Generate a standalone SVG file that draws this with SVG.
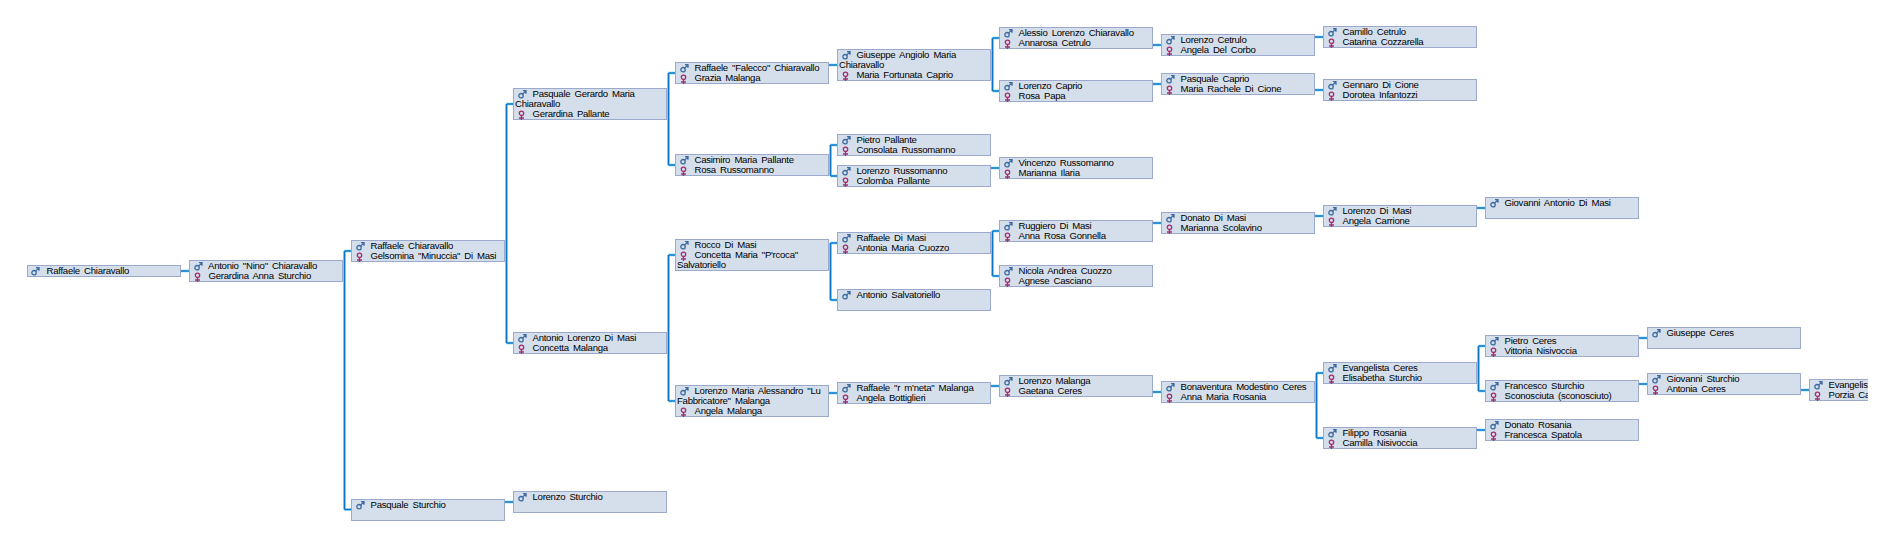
<svg xmlns="http://www.w3.org/2000/svg" width="1893" height="547" viewBox="0 0 1893 547">
<style>
.b{fill:#d5dfeb;stroke:#9aa9cc;stroke-width:1}
text{font-family:"Liberation Sans",Arial,sans-serif;font-size:9.6px;fill:#000;word-spacing:1.8px;letter-spacing:-.27px}
.halo{fill:none;stroke:#a6e4f8;stroke-width:3}
.line{fill:none;stroke:#0a74c8;stroke-width:1.5}
.mi{fill:none;stroke:#3d6ba0;stroke-width:1.3}
.fi{fill:none;stroke:#a03070;stroke-width:1.3}
</style>
<defs>
<g id="m" transform="translate(0 .7)"><circle class="mi" cx="3" cy="6" r="2.2"/><path class="mi" d="M4.6 4.4 7.6 1.4M5 1H8V4"/></g>
<g id="f" transform="translate(0 1)"><circle class="fi" cx="3.5" cy="2.8" r="2.2"/><path class="fi" d="M3.5 5V9.6M1 7.5H6"/></g>
<clipPath id="clip"><rect x="0" y="0" width="1868" height="547"/></clipPath>
<path id="links" d="M181 271H189M344.500 251V509.500M344.500 251H351M344.500 509.500H351M506.500 104V343M506.500 104H513M506.500 343H513M505 502H513M668.500 73V165M668.500 73H675M668.500 165H675M668.500 255V401M668.500 255H675M668.500 401H675M829 65H837M830.500 145V176M830.500 145H837M830.500 176H837M830.500 243V300M830.500 243H837M830.500 300H837M829 393H837M992.500 38V91M992.500 38H999M992.500 91H999M991 168H999M992.500 231V276M992.500 231H999M992.500 276H999M991 386H999M1153 45H1161M1153 84H1161M1153 223H1161M1153 392H1161M1315 37H1323M1315 90H1323M1315 216H1323M1316.500 373V438M1316.500 373H1323M1316.500 438H1323M1477 208H1485M1478.500 346V391M1478.500 346H1485M1478.500 391H1485M1477 430H1485M1639 338H1647M1639 384H1647M1801 390H1809"/>
</defs>
<g id="connectors">
<use href="#links" class="halo"/>
<use href="#links" class="line"/>
</g>
<g id="nodes" clip-path="url(#clip)">
<g id="n1"><rect class="b" x="27.500" y="265.500" width="153" height="11"/><use href="#m" x="31" y="266"/><text x="46.500" y="274.300">Raffaele Chiaravallo</text></g>
<g id="n2"><rect class="b" x="189.500" y="260.500" width="153" height="21"/><use href="#m" x="194" y="261"/><use href="#f" x="194" y="271.500"/><text x="208" y="269">Antonio "Nino" Chiaravallo</text><text x="208.500" y="279">Gerardina Anna Sturchio</text></g>
<g id="n3"><rect class="b" x="351.500" y="240.500" width="153" height="21"/><use href="#m" x="356" y="241"/><use href="#f" x="356" y="251.500"/><text x="370.500" y="249">Raffaele Chiaravallo</text><text x="370.500" y="259">Gelsomina "Minuccia" Di Masi</text></g>
<g id="n4"><rect class="b" x="351.500" y="499.500" width="153" height="21"/><use href="#m" x="356" y="500"/><text x="370.500" y="508">Pasquale Sturchio</text></g>
<g id="n5"><rect class="b" x="513.500" y="491.500" width="153" height="21"/><use href="#m" x="518" y="492"/><text x="532.500" y="500">Lorenzo Sturchio</text></g>
<g id="n6"><rect class="b" x="513.500" y="88.500" width="153" height="31"/><use href="#m" x="518" y="89"/><use href="#f" x="518" y="109.500"/><text x="532.500" y="97">Pasquale Gerardo Maria</text><text x="515" y="107">Chiaravallo</text><text x="532.500" y="117">Gerardina Pallante</text></g>
<g id="n7"><rect class="b" x="513.500" y="332.500" width="153" height="21"/><use href="#m" x="518" y="333"/><use href="#f" x="518" y="343.500"/><text x="532.500" y="341">Antonio Lorenzo Di Masi</text><text x="532.500" y="351">Concetta Malanga</text></g>
<g id="n8"><rect class="b" x="675.500" y="62.500" width="153" height="21"/><use href="#m" x="680" y="63"/><use href="#f" x="680" y="73.500"/><text x="694.500" y="71">Raffaele "Falecco" Chiaravallo</text><text x="694.500" y="81">Grazia Malanga</text></g>
<g id="n9"><rect class="b" x="675.500" y="154.500" width="153" height="21"/><use href="#m" x="680" y="155"/><use href="#f" x="680" y="165.500"/><text x="694.500" y="163">Casimiro Maria Pallante</text><text x="694.500" y="173">Rosa Russomanno</text></g>
<g id="n10"><rect class="b" x="675.500" y="239.500" width="153" height="31"/><use href="#m" x="680" y="240"/><use href="#f" x="680" y="250.500"/><text x="694.500" y="248">Rocco Di Masi</text><text x="694.500" y="258">Concetta Maria "P'rcoca"</text><text x="677" y="268">Salvatoriello</text></g>
<g id="n11"><rect class="b" x="675.500" y="385.500" width="153" height="31"/><use href="#m" x="680" y="386"/><use href="#f" x="680" y="406.500"/><text x="694.500" y="394">Lorenzo Maria Alessandro "Lu</text><text x="677" y="404">Fabbricatore" Malanga</text><text x="694.500" y="414">Angela Malanga</text></g>
<g id="n12"><rect class="b" x="837.500" y="49.500" width="153" height="31"/><use href="#m" x="842" y="50"/><use href="#f" x="842" y="70.500"/><text x="856.500" y="58">Giuseppe Angiolo Maria</text><text x="839" y="68">Chiaravallo</text><text x="856.500" y="78">Maria Fortunata Caprio</text></g>
<g id="n13"><rect class="b" x="837.500" y="134.500" width="153" height="21"/><use href="#m" x="842" y="135"/><use href="#f" x="842" y="145.500"/><text x="856.500" y="143">Pietro Pallante</text><text x="856.500" y="153">Consolata Russomanno</text></g>
<g id="n14"><rect class="b" x="837.500" y="165.500" width="153" height="21"/><use href="#m" x="842" y="166"/><use href="#f" x="842" y="176.500"/><text x="856.500" y="174">Lorenzo Russomanno</text><text x="856.500" y="184">Colomba Pallante</text></g>
<g id="n15"><rect class="b" x="837.500" y="232.500" width="153" height="21"/><use href="#m" x="842" y="233"/><use href="#f" x="842" y="243.500"/><text x="856.500" y="241">Raffaele Di Masi</text><text x="856.500" y="251">Antonia Maria Cuozzo</text></g>
<g id="n16"><rect class="b" x="837.500" y="289.500" width="153" height="21"/><use href="#m" x="842" y="290"/><text x="856.500" y="298">Antonio Salvatoriello</text></g>
<g id="n17"><rect class="b" x="837.500" y="382.500" width="153" height="21"/><use href="#m" x="842" y="383"/><use href="#f" x="842" y="393.500"/><text x="856.500" y="391">Raffaele "r m'neta" Malanga</text><text x="856.500" y="401">Angela Bottiglieri</text></g>
<g id="n18"><rect class="b" x="999.500" y="27.500" width="153" height="21"/><use href="#m" x="1004" y="28"/><use href="#f" x="1004" y="38.500"/><text x="1018.500" y="36">Alessio Lorenzo Chiaravallo</text><text x="1018.500" y="46">Annarosa Cetrulo</text></g>
<g id="n19"><rect class="b" x="999.500" y="80.500" width="153" height="21"/><use href="#m" x="1004" y="81"/><use href="#f" x="1004" y="91.500"/><text x="1018.500" y="89">Lorenzo Caprio</text><text x="1018.500" y="99">Rosa Papa</text></g>
<g id="n20"><rect class="b" x="999.500" y="157.500" width="153" height="21"/><use href="#m" x="1004" y="158"/><use href="#f" x="1004" y="168.500"/><text x="1018.500" y="166">Vincenzo Russomanno</text><text x="1018.500" y="176">Marianna Ilaria</text></g>
<g id="n21"><rect class="b" x="999.500" y="220.500" width="153" height="21"/><use href="#m" x="1004" y="221"/><use href="#f" x="1004" y="231.500"/><text x="1018.500" y="229">Ruggiero Di Masi</text><text x="1018.500" y="239">Anna Rosa Gonnella</text></g>
<g id="n22"><rect class="b" x="999.500" y="265.500" width="153" height="21"/><use href="#m" x="1004" y="266"/><use href="#f" x="1004" y="276.500"/><text x="1018.500" y="274">Nicola Andrea Cuozzo</text><text x="1018.500" y="284">Agnese Casciano</text></g>
<g id="n23"><rect class="b" x="999.500" y="375.500" width="153" height="21"/><use href="#m" x="1004" y="376"/><use href="#f" x="1004" y="386.500"/><text x="1018.500" y="384">Lorenzo Malanga</text><text x="1018.500" y="394">Gaetana Ceres</text></g>
<g id="n24"><rect class="b" x="1161.500" y="34.500" width="153" height="21"/><use href="#m" x="1166" y="35"/><use href="#f" x="1166" y="45.500"/><text x="1180.500" y="43">Lorenzo Cetrulo</text><text x="1180.500" y="53">Angela Del Corbo</text></g>
<g id="n25"><rect class="b" x="1161.500" y="73.500" width="153" height="21"/><use href="#m" x="1166" y="74"/><use href="#f" x="1166" y="84.500"/><text x="1180.500" y="82">Pasquale Caprio</text><text x="1180.500" y="92">Maria Rachele Di Cione</text></g>
<g id="n26"><rect class="b" x="1161.500" y="212.500" width="153" height="21"/><use href="#m" x="1166" y="213"/><use href="#f" x="1166" y="223.500"/><text x="1180.500" y="221">Donato Di Masi</text><text x="1180.500" y="231">Marianna Scolavino</text></g>
<g id="n27"><rect class="b" x="1161.500" y="381.500" width="153" height="21"/><use href="#m" x="1166" y="382"/><use href="#f" x="1166" y="392.500"/><text x="1180.500" y="390">Bonaventura Modestino Ceres</text><text x="1180.500" y="400">Anna Maria Rosania</text></g>
<g id="n28"><rect class="b" x="1323.500" y="26.500" width="153" height="21"/><use href="#m" x="1328" y="27"/><use href="#f" x="1328" y="37.500"/><text x="1342.500" y="35">Camillo Cetrulo</text><text x="1342.500" y="45">Catarina Cozzarella</text></g>
<g id="n29"><rect class="b" x="1323.500" y="79.500" width="153" height="21"/><use href="#m" x="1328" y="80"/><use href="#f" x="1328" y="90.500"/><text x="1342.500" y="88">Gennaro Di Cione</text><text x="1342.500" y="98">Dorotea Infantozzi</text></g>
<g id="n30"><rect class="b" x="1323.500" y="205.500" width="153" height="21"/><use href="#m" x="1328" y="206"/><use href="#f" x="1328" y="216.500"/><text x="1342.500" y="214">Lorenzo Di Masi</text><text x="1342.500" y="224">Angela Carrione</text></g>
<g id="n31"><rect class="b" x="1323.500" y="362.500" width="153" height="21"/><use href="#m" x="1328" y="363"/><use href="#f" x="1328" y="373.500"/><text x="1342.500" y="371">Evangelista Ceres</text><text x="1342.500" y="381">Elisabetha Sturchio</text></g>
<g id="n32"><rect class="b" x="1323.500" y="427.500" width="153" height="21"/><use href="#m" x="1328" y="428"/><use href="#f" x="1328" y="438.500"/><text x="1342.500" y="436">Filippo Rosania</text><text x="1342.500" y="446">Camilla Nisivoccia</text></g>
<g id="n33"><rect class="b" x="1485.500" y="197.500" width="153" height="21"/><use href="#m" x="1490" y="198"/><text x="1504.500" y="206">Giovanni Antonio Di Masi</text></g>
<g id="n34"><rect class="b" x="1485.500" y="335.500" width="153" height="21"/><use href="#m" x="1490" y="336"/><use href="#f" x="1490" y="346.500"/><text x="1504.500" y="344">Pietro Ceres</text><text x="1504.500" y="354">Vittoria Nisivoccia</text></g>
<g id="n35"><rect class="b" x="1485.500" y="380.500" width="153" height="21"/><use href="#m" x="1490" y="381"/><use href="#f" x="1490" y="391.500"/><text x="1504.500" y="389">Francesco Sturchio</text><text x="1504.500" y="399">Sconosciuta (sconosciuto)</text></g>
<g id="n36"><rect class="b" x="1485.500" y="419.500" width="153" height="21"/><use href="#m" x="1490" y="420"/><use href="#f" x="1490" y="430.500"/><text x="1504.500" y="428">Donato Rosania</text><text x="1504.500" y="438">Francesca Spatola</text></g>
<g id="n37"><rect class="b" x="1647.500" y="327.500" width="153" height="21"/><use href="#m" x="1652" y="328"/><text x="1666.500" y="336">Giuseppe Ceres</text></g>
<g id="n38"><rect class="b" x="1647.500" y="373.500" width="153" height="21"/><use href="#m" x="1652" y="374"/><use href="#f" x="1652" y="384.500"/><text x="1666.500" y="382">Giovanni Sturchio</text><text x="1666.500" y="392">Antonia Ceres</text></g>
<g id="n39"><rect class="b" x="1809.500" y="379.500" width="153" height="21"/><use href="#m" x="1814" y="380"/><use href="#f" x="1814" y="390.500"/><text x="1828.500" y="388">Evangelis</text><text x="1828.500" y="398">Porzia Ca</text></g>
</g>
</svg>
